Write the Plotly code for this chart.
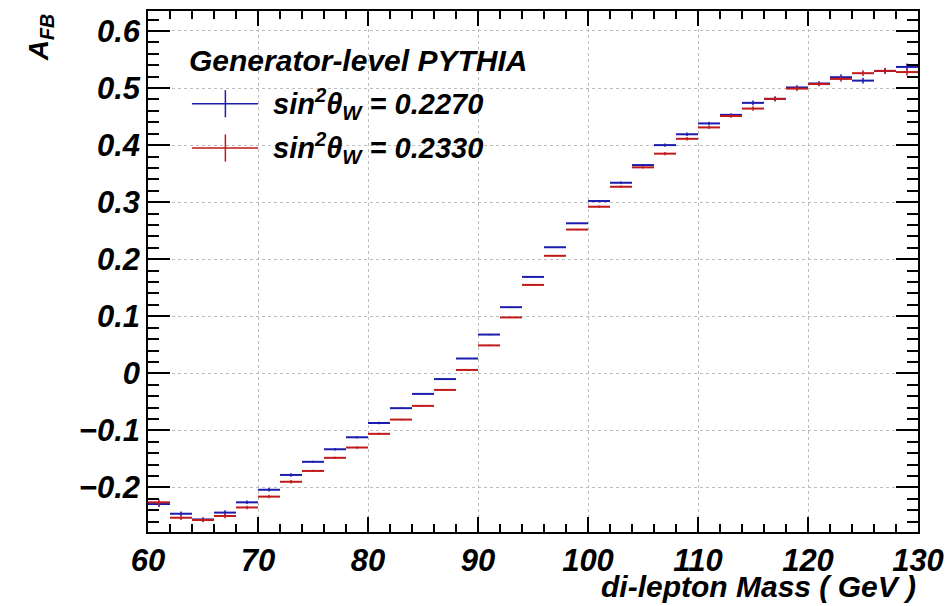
import numpy as np
import plotly.graph_objects as go

# Histogram binning: di-lepton mass 60-130 GeV, 2 GeV bins
bin_edges = list(range(60, 132, 2))

# A_FB for sin^2(theta_W) = 0.2270 (blue)
afb_2270 = [-0.229, -0.246, -0.256, -0.244, -0.226, -0.204, -0.178, -0.155, -0.133, -0.112,
            -0.087, -0.061, -0.036, -0.010, 0.026, 0.068, 0.116, 0.169, 0.221, 0.263,
            0.302, 0.334, 0.365, 0.400, 0.419, 0.438, 0.453, 0.474, 0.481, 0.501,
            0.508, 0.519, 0.513, 0.530, 0.537]
err_2270 = [0.005, 0.004, 0.004, 0.004, 0.003, 0.003, 0.003, 0.002, 0.002, 0.002,
            0.002, 0.001, 0.001, 0.001, 0.001, 0.001, 0.001, 0.001, 0.001, 0.001,
            0.002, 0.002, 0.002, 0.003, 0.003, 0.003, 0.003, 0.004, 0.004, 0.004,
            0.004, 0.005, 0.005, 0.005, 0.006]

# A_FB for sin^2(theta_W) = 0.2330 (red)
afb_2330 = [-0.226, -0.253, -0.257, -0.250, -0.235, -0.216, -0.190, -0.171, -0.148, -0.130,
            -0.106, -0.081, -0.057, -0.029, 0.006, 0.049, 0.098, 0.155, 0.206, 0.252,
            0.292, 0.327, 0.361, 0.385, 0.411, 0.431, 0.451, 0.464, 0.481, 0.499,
            0.507, 0.516, 0.526, 0.530, 0.528]
err_2330 = [0.005, 0.004, 0.004, 0.004, 0.003, 0.003, 0.003, 0.002, 0.002, 0.002,
            0.002, 0.001, 0.001, 0.001, 0.001, 0.001, 0.001, 0.001, 0.001, 0.001,
            0.002, 0.002, 0.002, 0.003, 0.003, 0.003, 0.003, 0.004, 0.004, 0.004,
            0.004, 0.005, 0.005, 0.005, 0.006]

legend_title = "Generator-level PYTHIA"
labels = ["sin<sup>2</sup>θ<sub>W</sub> = 0.2270", "sin<sup>2</sup>θ<sub>W</sub> = 0.2330"]
colors = ["#1c1cae", "#c01a1a"]

edges = np.array(bin_edges, dtype=float)
centers = 0.5 * (edges[:-1] + edges[1:])
half_w = 0.5 * (edges[1:] - edges[:-1])

FONT = "Liberation Sans, Arial, Helvetica, sans-serif"

fig = go.Figure()
for vals, errs, col, lab in [(afb_2270, err_2270, colors[0], labels[0]),
                             (afb_2330, err_2330, colors[1], labels[1])]:
    fig.add_trace(go.Scatter(
        x=centers, y=vals, mode="markers", name=lab,
        marker=dict(size=1, color=col, opacity=0),
        error_x=dict(type="data", array=half_w, symmetric=True, color=col, thickness=2, width=0),
        error_y=dict(type="data", array=errs, symmetric=True, color=col, thickness=1.5, width=0),
        showlegend=False, hoverinfo="x+y",
    ))

tickfont = dict(family=FONT, size=31, color="black", weight="bold", style="italic")

fig.update_layout(
    width=947, height=606,
    margin=dict(l=148, r=29, t=11, b=74, autoexpand=False),
    paper_bgcolor="white", plot_bgcolor="white",
    showlegend=False,
)
fig.update_xaxes(
    range=[60, 130], dtick=10, tick0=60, automargin=False,
    ticks="inside", ticklen=15, tickwidth=1.5, tickcolor="black",
    minor=dict(dtick=2, ticks="inside", ticklen=8, tickwidth=1.5, tickcolor="black", showgrid=False),
    showline=True, linecolor="black", linewidth=1.5, mirror="allticks",
    showgrid=True, gridcolor="#bdbdbd", griddash="dot", gridwidth=1,
    zeroline=False, tickfont=tickfont,
)
fig.update_yaxes(
    range=[-0.278, 0.635], dtick=0.1, tick0=0, automargin=False,
    ticks="inside", ticklen=22, tickwidth=1.5, tickcolor="black",
    minor=dict(dtick=0.02, ticks="inside", ticklen=11, tickwidth=1.5, tickcolor="black", showgrid=False),
    showline=True, linecolor="black", linewidth=1.5, mirror="allticks",
    showgrid=True, gridcolor="#bdbdbd", griddash="dot", gridwidth=1,
    zeroline=False, tickfont=tickfont,
)

# Axis titles
fig.add_annotation(text="di-lepton Mass ( GeV )", xref="paper", yref="paper",
                   x=1.0, y=-0.141, xanchor="right", yanchor="bottom", showarrow=False,
                   font=dict(family=FONT, size=30, color="black", weight="bold", style="italic"))
fig.add_annotation(text="A<sub>FB</sub>", xref="paper", yref="paper",
                   x=-0.14, y=0.997, xanchor="center", yanchor="top", showarrow=False,
                   textangle=-90,
                   font=dict(family=FONT, size=28, color="black", weight="bold", style="italic"))

# Legend (drawn manually, ROOT style)
fig.add_annotation(text=legend_title, xref="paper", yref="paper",
                   x=0.05, y=0.905, xanchor="left", yanchor="middle", showarrow=False,
                   font=dict(family=FONT, size=30, color="black", weight="bold", style="italic"))
leg_y = [0.822, 0.737]
for ly, col, lab in zip(leg_y, colors, labels):
    fig.add_shape(type="line", xref="paper", yref="paper",
                  x0=0.057, x1=0.143, y0=ly, y1=ly, line=dict(color=col, width=1.5))
    fig.add_shape(type="line", xref="paper", yref="paper",
                  x0=0.1005, x1=0.1005, y0=ly - 0.026, y1=ly + 0.026, line=dict(color=col, width=1.5))
    fig.add_annotation(text=lab, xref="paper", yref="paper",
                       x=0.16, y=ly, xanchor="left", yanchor="middle", showarrow=False,
                       font=dict(family=FONT, size=29, color="black", weight="bold", style="italic"))

fig.write_html("out.html", config={"displayModeBar": False},
               post_script="document.body.style.margin='0px';")
